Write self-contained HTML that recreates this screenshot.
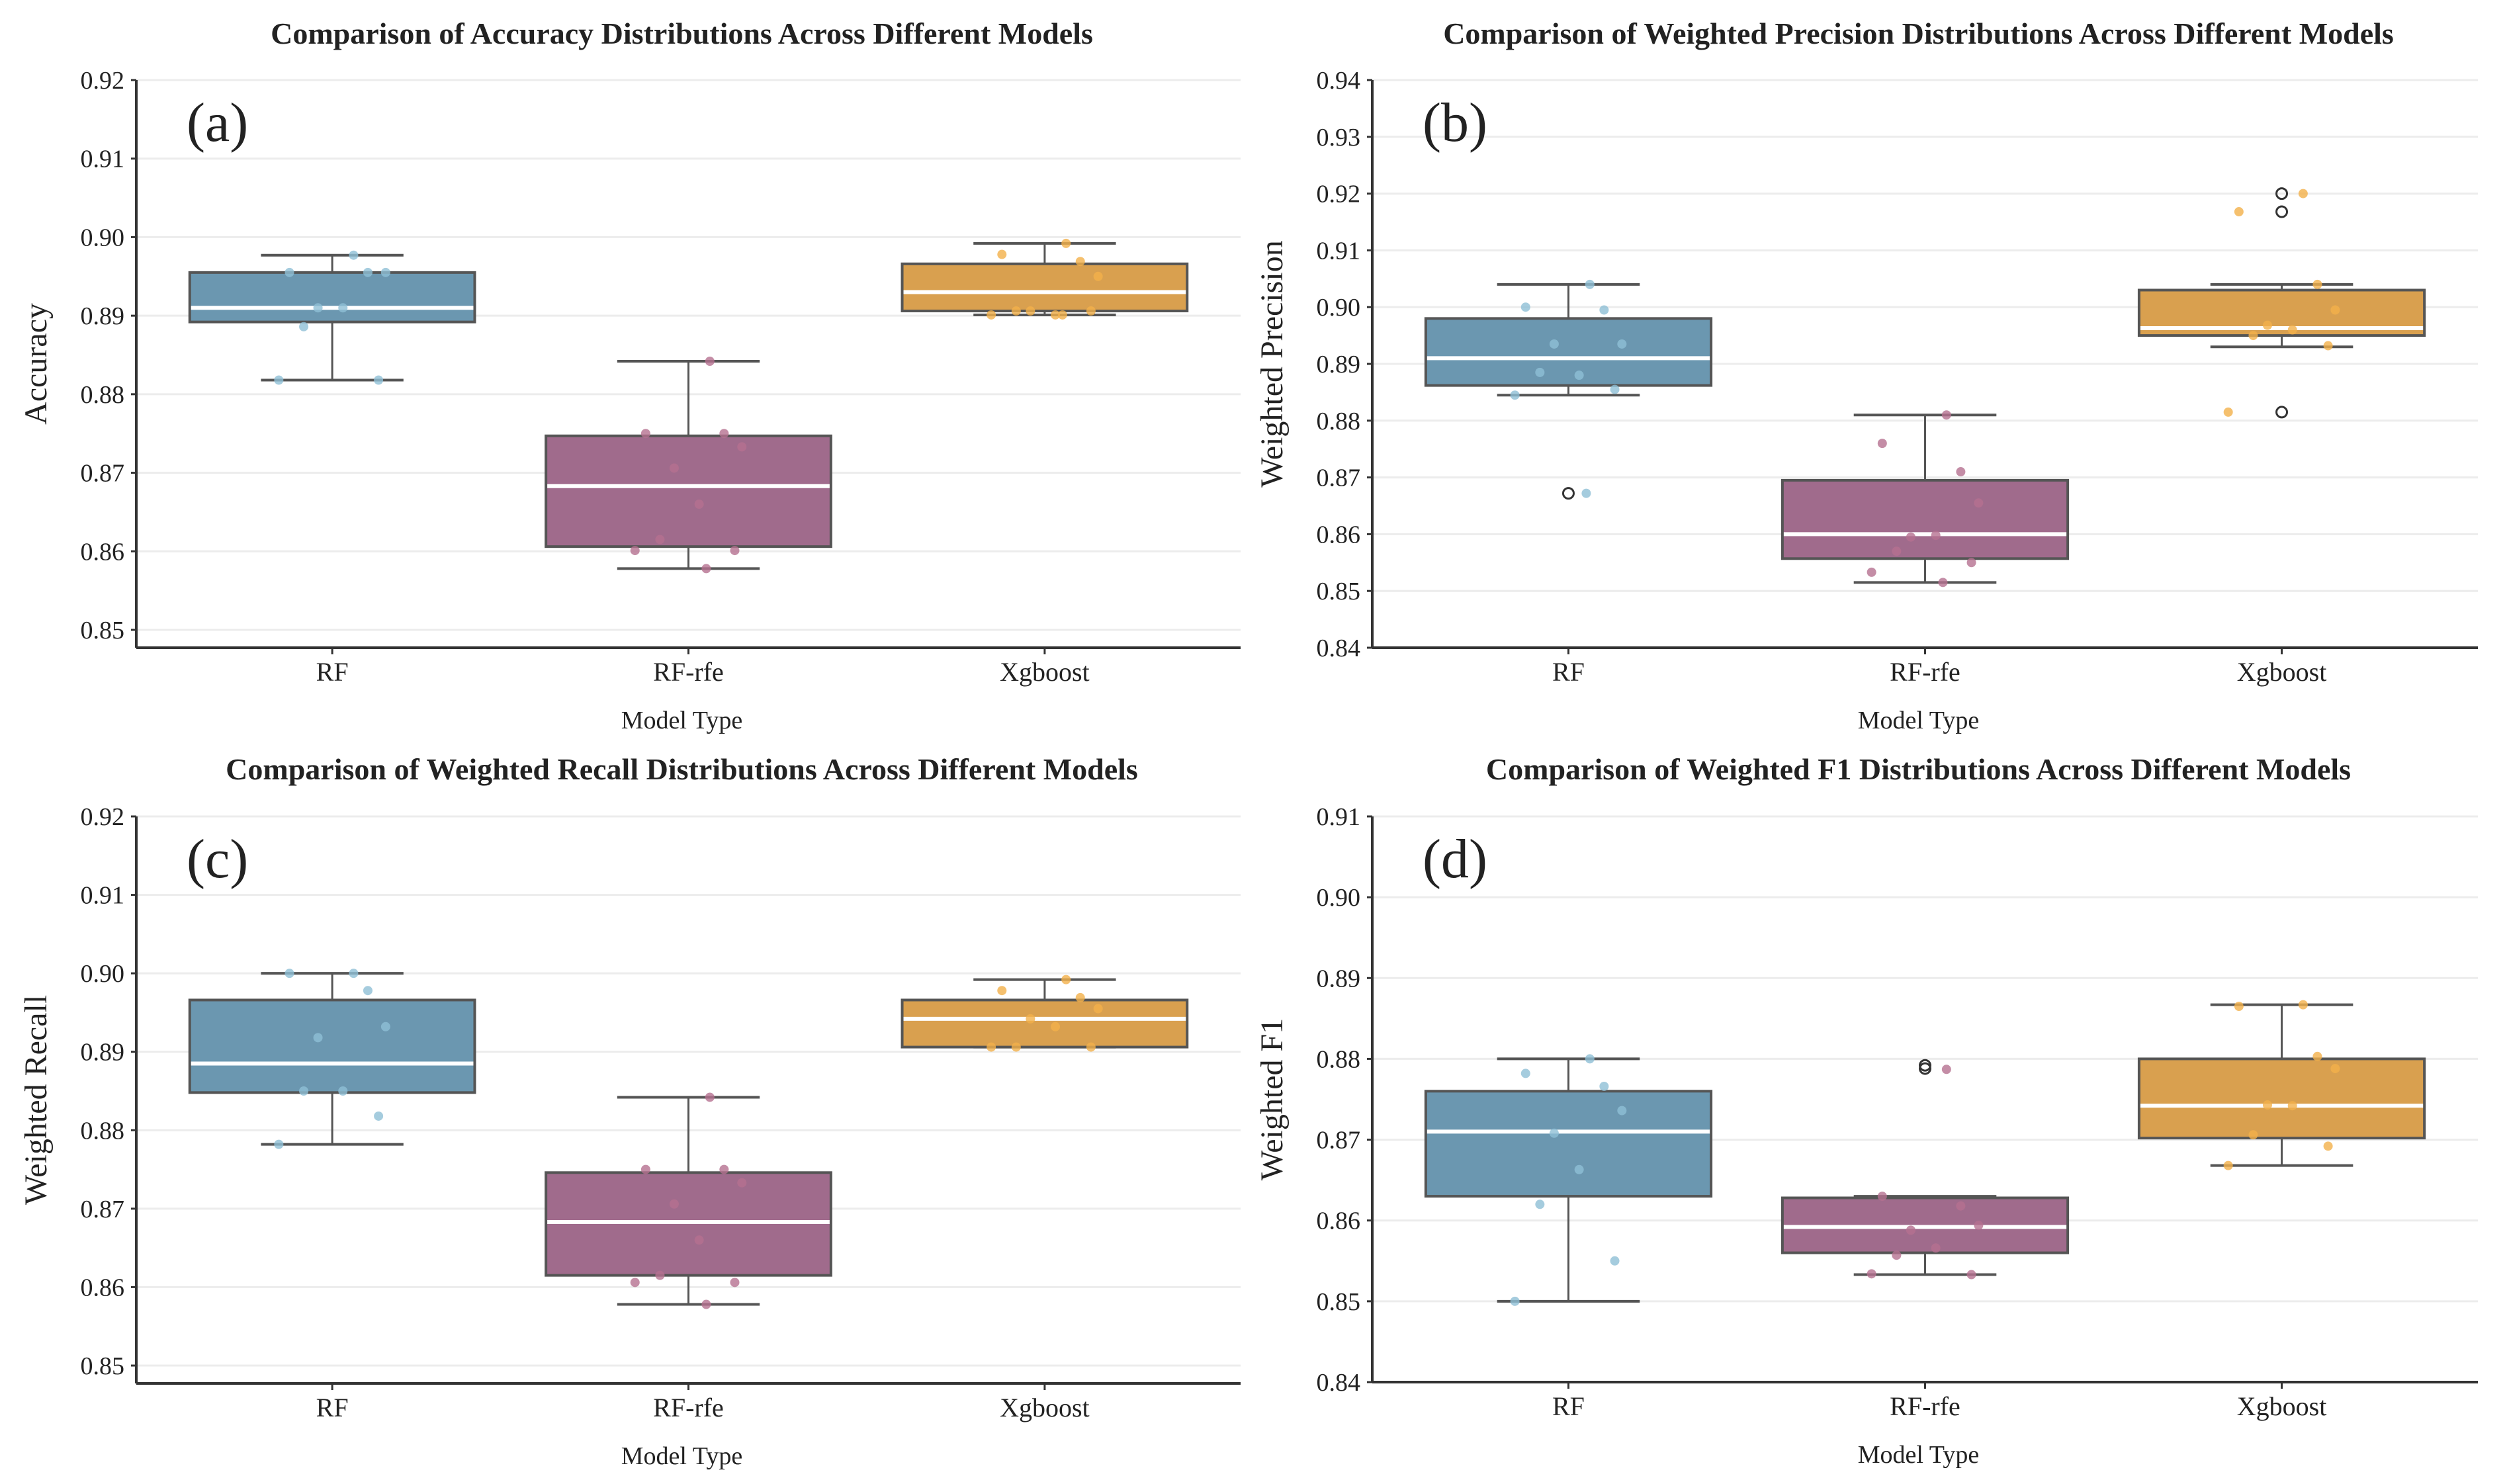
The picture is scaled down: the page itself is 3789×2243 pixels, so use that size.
<!DOCTYPE html>
<html><head><meta charset="utf-8">
<style>
html,body{margin:0;padding:0;background:#fff;}
svg{display:block;}
text{font-family:"Liberation Serif",serif;fill:#222;}
</style></head>
<body>
<svg id="chart" width="3789" height="2243" viewBox="0 0 3789 2243" xmlns="http://www.w3.org/2000/svg"></svg>
<script>
const categories = ["RF","RF-rfe","Xgboost"];
// [whiskerLow, q1, median, q3, whiskerHigh]
const accStats = [[0.8818,0.8892,0.8910,0.8955,0.8977],[0.8578,0.8606,0.8683,0.8747,0.8842],[0.8901,0.8906,0.8930,0.8966,0.8992]];
const accPoints = [[0.8977,0.8955,0.8955,0.8955,0.8910,0.8910,0.8886,0.8818,0.8818],[0.8842,0.8750,0.8750,0.8733,0.8706,0.8660,0.8615,0.8601,0.8601,0.8578],[0.8992,0.8978,0.8969,0.8950,0.8906,0.8901,0.8906,0.8906,0.8901,0.8901]];
const accOutliers = [[],[],[]];
const precStats = [[0.8845,0.8862,0.8910,0.8980,0.9040],[0.8515,0.8557,0.8600,0.8695,0.8810],[0.8930,0.8950,0.8963,0.9030,0.9040]];
const precPoints = [[0.9040,0.9000,0.8995,0.8935,0.8935,0.8880,0.8885,0.8855,0.8845,0.8672],[0.8810,0.8760,0.8710,0.8655,0.8595,0.8598,0.8570,0.8550,0.8533,0.8515],[0.9200,0.9168,0.9040,0.8995,0.8968,0.8960,0.8950,0.8932,0.8815]];
const precOutliers = [[0.8672],[],[0.9200,0.9168,0.8815]];
const recStats = [[0.8782,0.8848,0.8885,0.8966,0.9000],[0.8578,0.8615,0.8683,0.8746,0.8842],[0.8906,0.8906,0.8942,0.8966,0.8992]];
const recPoints = [[0.9000,0.9000,0.8978,0.8932,0.8918,0.8850,0.8850,0.8818,0.8782],[0.8842,0.8750,0.8750,0.8733,0.8706,0.8660,0.8615,0.8606,0.8606,0.8578],[0.8992,0.8978,0.8969,0.8955,0.8942,0.8932,0.8906,0.8906,0.8906]];
const recOutliers = [[],[],[]];
const f1Stats = [[0.8500,0.8630,0.8710,0.8760,0.8800],[0.8533,0.8560,0.8592,0.8628,0.8630],[0.8668,0.8702,0.8742,0.8800,0.8867]];
const f1Points = [[0.8800,0.8782,0.8766,0.8736,0.8708,0.8663,0.8620,0.8550,0.8500],[0.8787,0.8630,0.8618,0.8594,0.8588,0.8566,0.8557,0.8533,0.8534],[0.8867,0.8865,0.8803,0.8788,0.8743,0.8742,0.8706,0.8692,0.8668]];
const f1Outliers = [[],[0.8792,0.8788],[]];
const jitter = [0.06,-0.12,0.1,0.15,-0.04,0.03,-0.08,0.13,-0.15,0.05];
const accTicks = [0.85,0.86,0.87,0.88,0.89,0.90,0.91,0.92];
const precTicks = [0.84,0.85,0.86,0.87,0.88,0.89,0.90,0.91,0.92,0.93,0.94];
const recTicks = [0.85,0.86,0.87,0.88,0.89,0.90,0.91,0.92];
const f1Ticks = [0.84,0.85,0.86,0.87,0.88,0.89,0.90,0.91];

const fills = ["#6b97b0","#a06b8c","#d9a04f"];
const dotFills = ["#8fbfd6","#b57090","#f2b04a"];
const NS = "http://www.w3.org/2000/svg";
const svg = document.getElementById("chart");
function mk(tag, attrs, parent, txt){
  const e = document.createElementNS(NS, tag);
  for (const k in attrs) e.setAttribute(k, attrs[k]);
  if (txt !== undefined) e.textContent = txt;
  (parent||svg).appendChild(e);
  return e;
}
const panels = [
  {key:"accuracy",letter:"(a)",title:"Comparison of Accuracy Distributions Across Different Models",ylab:"Accuracy",stats:accStats,pts:accPoints,outs:accOutliers,ticks:accTicks,
   x0:206,x1:1875,vTop:0.92,yTop:121,vBot:0.85,yBot:952,axisY:979,titleY:66},
  {key:"precision",letter:"(b)",title:"Comparison of Weighted Precision Distributions Across Different Models",ylab:"Weighted Precision",stats:precStats,pts:precPoints,outs:precOutliers,ticks:precTicks,
   x0:2074,x1:3745,vTop:0.94,yTop:121,vBot:0.84,yBot:979,axisY:979,titleY:66},
  {key:"recall",letter:"(c)",title:"Comparison of Weighted Recall Distributions Across Different Models",ylab:"Weighted Recall",stats:recStats,pts:recPoints,outs:recOutliers,ticks:recTicks,
   x0:206,x1:1875,vTop:0.92,yTop:1234,vBot:0.85,yBot:2064,axisY:2091,titleY:1178},
  {key:"f1",letter:"(d)",title:"Comparison of Weighted F1 Distributions Across Different Models",ylab:"Weighted F1",stats:f1Stats,pts:f1Points,outs:f1Outliers,ticks:f1Ticks,
   x0:2074,x1:3745,vTop:0.91,yTop:1234,vBot:0.84,yBot:2089,axisY:2089,titleY:1178}
];
panels.forEach(p=>{
  const g = mk("g",{});
  
  
  const y = v => p.yBot + (v - p.vBot) * (p.yTop - p.yBot) / (p.vTop - p.vBot);
  const band = (p.x1 - p.x0) / 3.1;
  const x = i => p.x0 + band * (i + 0.55) ;
  const bw = band * 0.8;
  p.ticks.forEach(t=>{
    const gl = mk("line",{x1:p.x0,x2:p.x1,y1:y(t),y2:y(t),stroke:"#ececec","stroke-width":3},g);
    
    
    mk("line",{x1:p.x0-8,x2:p.x0,y1:y(t),y2:y(t),stroke:"#333","stroke-width":3},g);
    const tl = mk("text",{x:p.x0-18,y:y(t)+13,"text-anchor":"end","font-size":38},g,t.toFixed(2));
    
    
  });
  const ya = mk("line",{x1:p.x0,x2:p.x0,y1:p.yTop,y2:p.axisY,stroke:"#333","stroke-width":4},g);
  
  
  const xa = mk("line",{x1:p.x0,x2:p.x1,y1:p.axisY,y2:p.axisY,stroke:"#333","stroke-width":4},g);
  
  
  p.stats.forEach((s,i)=>{
    const cx = x(i);
    const bg = mk("g",{},g);
    
    
    mk("line",{x1:cx,x2:cx,y1:y(s[0]),y2:y(s[1]),stroke:"#555","stroke-width":3},bg);
    mk("line",{x1:cx,x2:cx,y1:y(s[3]),y2:y(s[4]),stroke:"#555","stroke-width":3},bg);
    mk("line",{x1:cx-bw/4,x2:cx+bw/4,y1:y(s[0]),y2:y(s[0]),stroke:"#555","stroke-width":4},bg);
    mk("line",{x1:cx-bw/4,x2:cx+bw/4,y1:y(s[4]),y2:y(s[4]),stroke:"#555","stroke-width":4},bg);
    mk("rect",{x:cx-bw/2,y:y(s[3]),width:bw,height:y(s[1])-y(s[3]),fill:fills[i],stroke:"#555","stroke-width":4},bg);
    mk("line",{x1:cx-bw/2+2,x2:cx+bw/2-2,y1:y(s[2]),y2:y(s[2]),stroke:"#fff","stroke-width":6},bg);
    mk("line",{x1:cx,x2:cx,y1:p.axisY,y2:p.axisY+10,stroke:"#333","stroke-width":3},g);
    const xl = mk("text",{x:cx,y:p.axisY+50,"text-anchor":"middle","font-size":40},g,categories[i]);
    
    
  });
  p.outs.forEach((arr,i)=>{
    arr.forEach(v=>{
      const o = mk("circle",{cx:x(i),cy:y(v),r:8,fill:"none",stroke:"#333","stroke-width":3},g);
      
      
    });
  });
  p.pts.forEach((arr,i)=>{
    arr.forEach((v,j)=>{
      const c = mk("circle",{cx:x(i)+jitter[j%jitter.length]*band,cy:y(v),r:7,fill:dotFills[i],opacity:0.8},g);
      
      
    });
  });
  const cxm = (p.x0+p.x1)/2;
  const tt = mk("text",{x:cxm-10,y:p.titleY,"text-anchor":"middle","font-size":46,"font-weight":"bold"},g,p.title);
  
  
  const lt = mk("text",{x:p.x0+76,y:p.yTop+92,"font-size":84},g,p.letter);
  
  
  const xt = mk("text",{x:(p.x0+p.x1)/2-10,y:p.axisY+122,"text-anchor":"middle","font-size":38},g,"Model Type");
  
  
  const ymid = (p.yTop+p.axisY)/2;
  const yt = mk("text",{x:0,y:0,"text-anchor":"middle","font-size":48,transform:`translate(${p.x0-136},${ymid}) rotate(-90)`},g,p.ylab);
  
  
});
</script>
</body></html>
